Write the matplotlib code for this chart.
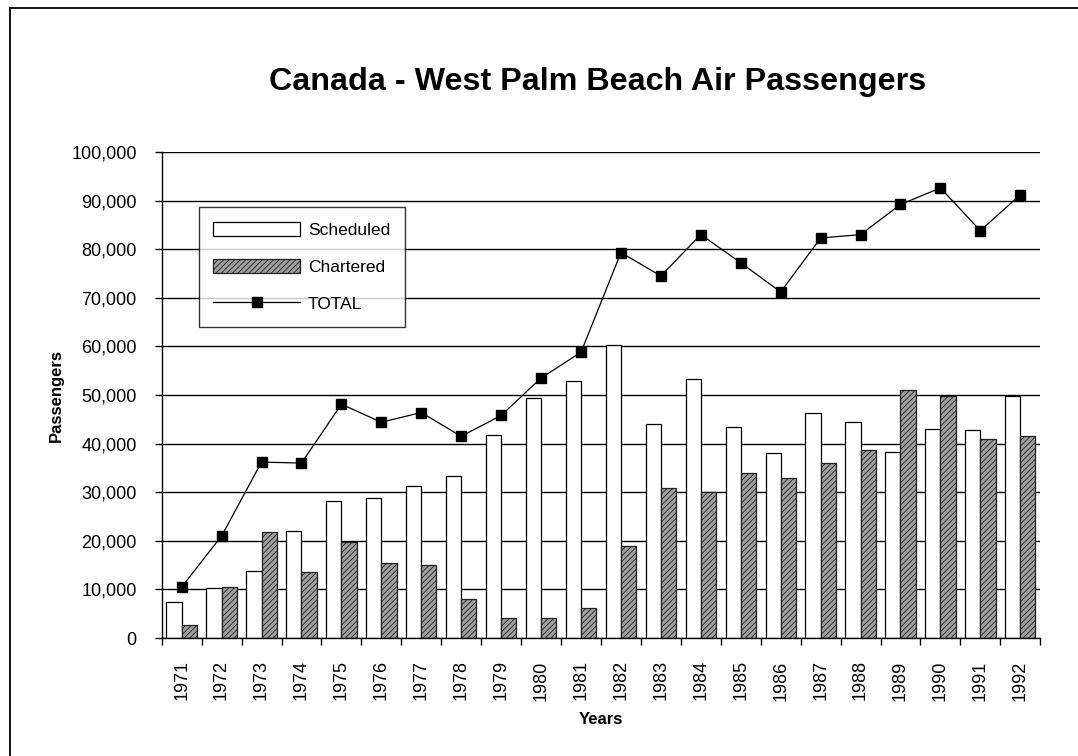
import numpy as np
import matplotlib
matplotlib.use("Agg")
import matplotlib.pyplot as plt
from matplotlib.lines import Line2D
from matplotlib.patches import Patch
from matplotlib.ticker import FuncFormatter, FixedLocator

plt.rcParams['font.family'] = ['Liberation Sans', 'DejaVu Sans']
plt.rcParams['hatch.linewidth'] = 0.6

years = [str(y) for y in range(1971, 1993)]
scheduled = [7400, 10300, 13800, 22100, 28100, 28900, 31200, 33400, 41700, 49300, 52900,
             60300, 44000, 53300, 43500, 38100, 46400, 44400, 38300, 43000, 42800, 49700]
chartered = [2700, 10600, 21900, 13500, 19800, 15500, 15000, 8000, 4200, 4200, 6200,
             18900, 30800, 30000, 33900, 33000, 36100, 38600, 51000, 49800, 40900, 41500]
total = [10500, 21000, 36200, 36000, 48100, 44400, 46400, 41500, 45800, 53500, 58800,
         79300, 74500, 83000, 77200, 71200, 82300, 83000, 89200, 92600, 83800, 91200]

x = np.arange(len(years))
w = 0.38

fig = plt.figure(figsize=(10.78, 7.56), dpi=100)
ax = fig.add_axes([0.150, 0.156, 0.815, 0.643])

ax.bar(x - w / 2, scheduled, w, color='white', edgecolor='black', linewidth=0.9, zorder=2)
ax.bar(x + w / 2, chartered, w, color='#a0a0a0', edgecolor='#202020', hatch='//////',
       linewidth=0.9, zorder=2)
ax.plot(x, total, color='black', linewidth=0.9, marker='s', markersize=7, zorder=3)

ax.set_xlim(-0.5, len(years) - 0.5)
ax.set_ylim(0, 100000)
ax.set_yticks(np.arange(0, 100001, 10000))
ax.yaxis.set_major_formatter(FuncFormatter(lambda v, p: f'{int(v):,}'))
ax.grid(axis='y', color='black', linewidth=1.0, zorder=0)
ax.set_axisbelow(True)

# ticks at group boundaries, year labels at centres
ax.xaxis.set_major_locator(FixedLocator(np.arange(-0.5, len(years), 1.0)))
ax.xaxis.set_minor_locator(FixedLocator(x))
ax.set_xticklabels([], minor=False)
ax.set_xticklabels(years, minor=True, rotation=90, fontsize=13)
ax.tick_params(axis='x', which='major', direction='out', length=5, width=1)
ax.tick_params(axis='x', which='minor', length=0, pad=16)
ax.tick_params(axis='y', direction='out', length=5, width=1, pad=13, labelsize=13)

for s in ['top', 'right']:
    ax.spines[s].set_visible(False)
for s in ['left', 'bottom']:
    ax.spines[s].set_linewidth(1.0)

ax.set_xlabel('Years', fontsize=12, fontweight='bold', labelpad=8)
ax.set_ylabel('Passengers', fontsize=12, fontweight='bold', labelpad=5)

fig.text(0.554, 0.891, 'Canada - West Palm Beach Air Passengers', ha='center', va='center',
         fontsize=23.2, fontweight='bold')

handles = [Patch(facecolor='white', edgecolor='black', linewidth=0.9),
           Patch(facecolor='#a0a0a0', edgecolor='#202020', hatch='//////', linewidth=0.9),
           Line2D([], [], color='black', linewidth=0.9, marker='s', markersize=7)]
leg = ax.legend(handles, ['Scheduled', 'Chartered', 'TOTAL'], loc='upper left',
                bbox_to_anchor=(0.042, 0.887), borderaxespad=0, fontsize=12.5, frameon=True,
                fancybox=False, edgecolor='black', handlelength=5.0, handleheight=0.9,
                labelspacing=1.2, borderpad=0.85, handletextpad=0.45)
leg.get_frame().set_linewidth(1.0)
leg.set_zorder(5)

# page frame (left and top edges)
fig.add_artist(Line2D([0.009, 0.009], [0.0, 0.989], color='black', linewidth=1.3,
                      transform=fig.transFigure))
fig.add_artist(Line2D([0.009, 1.0], [0.989, 0.989], color='black', linewidth=1.3,
                      transform=fig.transFigure))

fig.savefig('out.png', dpi=100, facecolor='white')
